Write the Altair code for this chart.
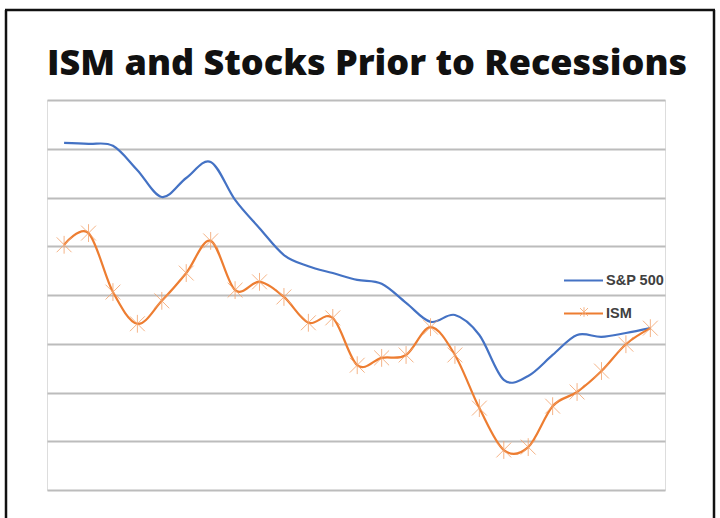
import altair as alt
import pandas as pd

periods = list(range(25))
sp500 = [71.2, 71.0, 70.6, 65.6, 60.1, 64.0, 67.3, 59.5, 53.7, 48.2, 45.9, 44.5, 43.1,
         42.3, 38.4, 34.5, 35.9, 31.8, 22.6, 23.4, 27.7, 31.8, 31.4, 32.2, 33.2]
ism = [50.3, 52.7, 40.6, 34.1, 38.8, 44.5, 51.1, 41.0, 42.7, 39.6, 34.3, 35.3, 25.6,
       27.1, 27.7, 33.4, 27.7, 16.8, 8.2, 8.8, 17.2, 20.1, 24.4, 29.9, 33.2]
series_names = ["S&P 500", "ISM"]
colors = ["#4472C4", "#ED7D31"]
asterisk = "M-1,-1L1,1M-1,1L1,-1M0,-1.2L0,1.2"

df = pd.concat([
    pd.DataFrame({"period": periods, "value": sp500, "series": series_names[0]}),
    pd.DataFrame({"period": periods, "value": ism, "series": series_names[1]}),
])
df_ism = df[df["series"] == "ISM"]

xscale = alt.Scale(domain=[-0.7, 24.6], nice=False, zero=False)
yscale = alt.Scale(domain=[0, 80], nice=False)
color = alt.Color(
    "series:N",
    scale=alt.Scale(domain=series_names, range=colors),
    sort=series_names,
    legend=alt.Legend(
        title=None, orient="none", legendX=520, legendY=164,
        symbolType="M-1.3,0L1.3,0", symbolSize=900, symbolStrokeWidth=2.2,
        labelFontSize=14.5, labelColor="#404040", labelFont="Liberation Sans",
        labelFontWeight="bold", labelOffset=6, rowPadding=10,
    ),
)

base = alt.Chart(df)
lines = base.mark_line(interpolate="cardinal", strokeWidth=2.2).encode(
    x=alt.X("period:Q", scale=xscale, axis=None),
    y=alt.Y("value:Q", scale=yscale,
            axis=alt.Axis(title=None, labels=False, ticks=False, domain=False,
                          values=[0, 10, 20, 30, 40, 50, 60, 70, 80],
                          gridColor="#bcbcbc", gridWidth=2)),
    color=color,
)
markers = alt.Chart(df_ism).mark_point(
    filled=False, size=220, strokeWidth=1, color="#F4A26A", opacity=0.8,
).encode(
    x=alt.X("period:Q", scale=xscale),
    y=alt.Y("value:Q", scale=yscale),
    shape=alt.Shape("series:N", scale=alt.Scale(domain=["ISM"], range=[asterisk]),
                    legend=alt.Legend(title=None, orient="none", legendX=532, legendY=207,
                                      symbolSize=64, symbolStrokeColor="#F4A26A",
                                      symbolStrokeWidth=1, labelExpr="''")),
)

border = alt.Chart(df.head(1)).mark_rule(color="#111111", strokeWidth=2.5).encode(
    x=alt.value(-41), y=alt.value(-90), y2=alt.value(420))
border_top = alt.Chart(df.head(1)).mark_rule(color="#111111", strokeWidth=2.5).encode(
    x=alt.value(-42), x2=alt.value(668), y=alt.value(-90))
border_right = alt.Chart(df.head(1)).mark_rule(color="#111111", strokeWidth=2.5).encode(
    x=alt.value(667), y=alt.value(-90), y2=alt.value(420))

chart = alt.layer(lines, markers, border, border_top, border_right).properties(
    width=618, height=390,
    title=alt.Title("ISM and Stocks Prior to Recessions", anchor="start", frame="group",
                    font="Open Sans", fontSize=36, fontWeight=800,
                    color="#111111", offset=-74),
    autosize=alt.AutoSizeParams(type="none"),
    padding={"left": 47, "top": 100, "right": 55, "bottom": 28},
).configure_view(stroke=None).configure(background="white")

chart.save("out.html", embed_options={"renderer": "svg", "actions": False})
